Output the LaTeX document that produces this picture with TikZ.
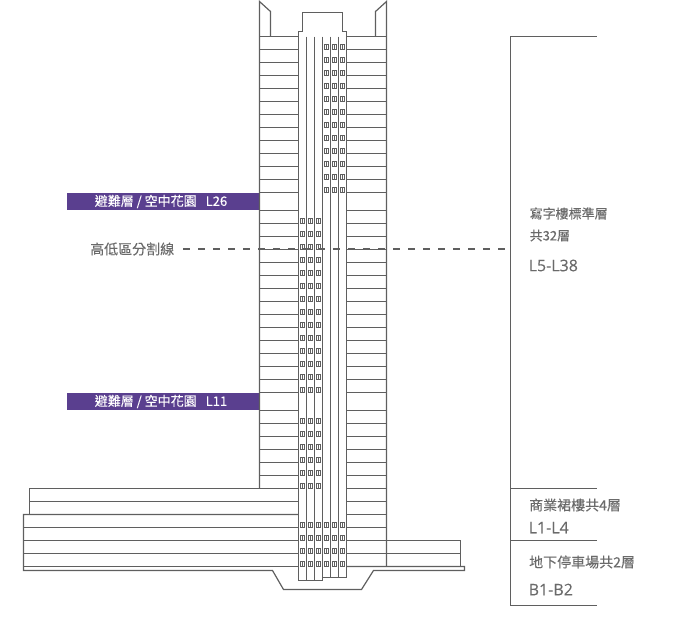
\documentclass[tikz,border=0pt]{standalone}
\usepackage{fontspec}
\newfontfamily\cjk{Noto Sans CJK TC}[RawFeature={embolden=0.2}]
\newfontfamily\latn{Open Sans}[RawFeature={embolden=0.2}]
\definecolor{wall}{HTML}{5F5F5F}
\definecolor{band}{HTML}{5A3F8F}
\definecolor{txt}{HTML}{6A6A6A}
\tikzset{
  wallline/.style={draw=wall,line width=1.2pt},
  win/.pic={\draw[wall,line width=.8pt] (-2,-5.5) rectangle (2,-.5); \draw[wall,line width=.6pt] (0,-5.5) -- (0,-.5);},
  bandbox/.style={fill=band,draw=none},
  bandtext/.style={text=white,font=\cjk\fontsize{13}{13}\selectfont,inner sep=0pt},
  sidetext/.style={text=txt,font=\cjk\fontsize{13}{13}\selectfont,anchor=west,inner sep=0pt},
  widetext/.style={text=txt,font=\cjk\fontsize{14}{14}\selectfont,anchor=west,inner sep=0pt},
  codetext/.style={text=txt,font=\latn\fontsize{16}{16}\selectfont,anchor=west,inner sep=0pt},
  divider/.style={draw=wall,line width=1.3pt,dash pattern=on 6.5pt off 8.5pt}
}
\begin{document}
\begin{tikzpicture}[x=1pt,y=-1pt]
\useasboundingbox (0,0) rectangle (680,630);
% bands
\fill[bandbox] (67,193) rectangle (259,210);
\fill[bandbox] (67,393) rectangle (259,410);
% tower floors
\foreach \y in {36.5,49.5,62.5,75.5,88.5,101.5,114.5,127.5,140.5,153.5,166.5,179.5,192.5,210.5,223.5,236.5,249.5,262.5,275.5,288.5,301.5,314.5,327.5,340.5,353.5,366.5,379.5,392.5,410.5,423.5,436.5,449.5,462.5,475.5} {
  \draw[wallline] (259.5,\y) -- (298.5,\y);
  \draw[wallline] (346.5,\y) -- (386.5,\y);
}
\foreach \y in {488.5,501.5,514.5,527.5,540.5,553.5} \draw[wallline] (346.5,\y) -- (386.5,\y);
% tower walls and horns
\draw[wallline] (259.5,488.5) -- (259.5,1.5) -- (270.5,11.5) -- (270.5,36.5);
\draw[wallline] (386.5,566.5) -- (386.5,1.5) -- (375.5,11.5) -- (375.5,36.5);
% crown
\draw[wallline] (298.5,580.5) -- (298.5,31.5) -- (302.5,31.5) -- (302.5,12.5) -- (342.5,12.5) -- (342.5,31.5) -- (346.5,31.5) -- (346.5,577.5);
% core
\foreach \x in {306.5,314.5,322.5} \draw[wallline] (\x,36.5) -- (\x,580.5);
\foreach \x in {330.5,338.5} \draw[wallline] (\x,36.5) -- (\x,577.5);
\draw[wallline] (298.5,580.5) -- (322.5,580.5);
\draw[wallline] (322.5,577.5) -- (346.5,577.5);
% podium
\draw[wallline] (298.5,488.5) -- (29.5,488.5) -- (29.5,514.5);
\draw[wallline] (298.5,501.5) -- (29.5,501.5);
\draw[wallline] (298.5,514.5) -- (23.5,514.5) -- (23.5,570.5) -- (272.5,570.5) -- (283.5,589.5) -- (361.5,589.5) -- (373.5,570.5) -- (464.5,570.5) -- (464.5,566.5) -- (346.5,566.5);
\foreach \y in {527.5,540.5,553.5,566.5} \draw[wallline] (23.5,\y) -- (298.5,\y);
\draw[wallline] (386.5,540.5) -- (460.5,540.5) -- (460.5,566.5);
\draw[wallline] (386.5,553.5) -- (460.5,553.5);
% windows
\foreach \y in {49.5,62.5,75.5,88.5,101.5,114.5,127.5,140.5,153.5,166.5,179.5,192.5}
  \foreach \x in {326.5,334.5,342.5} \pic at (\x,\y) {win};
\foreach \y in {223.5,236.5,249.5,262.5,275.5,288.5,301.5,314.5,327.5,340.5,353.5,366.5,379.5,392.5,423.5,436.5,449.5,462.5,475.5,488.5}
  \foreach \x in {302.5,310.5,318.5} \pic at (\x,\y) {win};
\foreach \y in {527.5,540.5,553.5,566.5}
  \foreach \x in {302.5,310.5,318.5,326.5,334.5,342.5} \pic at (\x,\y) {win};
% divider
\node[widetext] (divlabel) at (90,249) {高低區分割線};
\coordinate (divstart) at (183,249);
\coordinate (divend) at (506,249);
\draw[divider] (divstart) -- (divend);
% band labels
\node[bandtext] (refuge26) at (161,201.5) {避難層 / 空中花園\hspace{9pt}L26};
\node[bandtext] (refuge11) at (161,401.5) {避難層 / 空中花園\hspace{9pt}L11};
% bracket
\draw[wallline] (596.5,36.5) -- (510.5,36.5) -- (510.5,605.5) -- (596.5,605.5);
\draw[wallline] (510.5,488.5) -- (596.5,488.5);
\draw[wallline] (510.5,540.5) -- (596.5,540.5);
% side texts
\node[sidetext] (officea) at (529.5,213.5) {寫字樓標準層};
\node[sidetext] (officeb) at (529.5,235.5) {共32層};
\node[codetext] (officec) at (528.5,265.5) {L5-L38};
\node[widetext] (retaila) at (529,505) {商業裙樓共4層};
\node[codetext] (retailb) at (528.5,527.5) {L1-L4};
\node[widetext] (parka) at (529,562) {地下停車場共2層};
\node[codetext] (parkb) at (528.5,589.5) {B1-B2};
\end{tikzpicture}
\end{document}
